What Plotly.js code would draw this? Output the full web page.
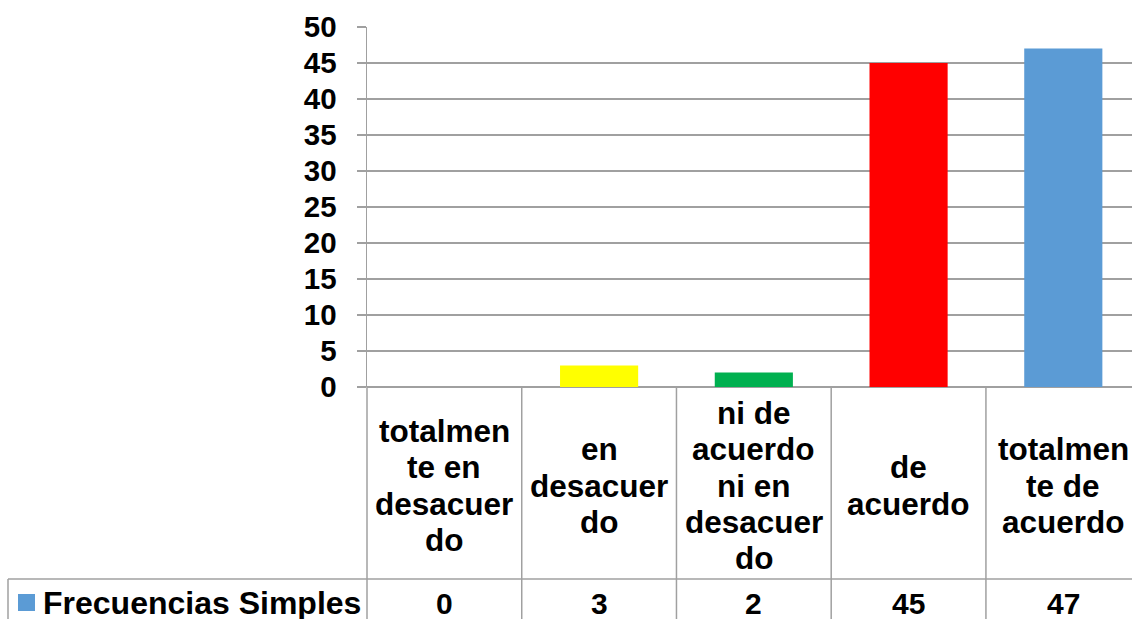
<!DOCTYPE html>
<html>
<head>
<meta charset="utf-8">
<script src="https://cdn.plot.ly/plotly-3.0.1.min.js"></script>
<style>
  html, body { margin: 0; padding: 0; background: #fff; overflow: hidden; }
  #chart { width: 1132px; height: 619px; }
</style>
</head>
<body>
<div id="chart"></div>
<script>
// ---- Data ----
const categories = [
  'totalmente en desacuerdo',
  'en desacuerdo',
  'ni de acuerdo ni en desacuerdo',
  'de acuerdo',
  'totalmente de acuerdo'
];
const labelLines = [
  ['totalmen', 'te en', 'desacuer', 'do'],
  ['en', 'desacuer', 'do'],
  ['ni de', 'acuerdo', 'ni en', 'desacuer', 'do'],
  ['de', 'acuerdo'],
  ['totalmen', 'te de', 'acuerdo']
];
const values = [0, 3, 2, 45, 47];
const seriesName = 'Frecuencias Simples';
const barColors = ['#5B9BD5', '#FFFF00', '#00B050', '#FF0000', '#5B9BD5'];
const legendColor = '#5B9BD5';
const yTickVals = [0, 5, 10, 15, 20, 25, 30, 35, 40, 45, 50];

// ---- Layout geometry ----
const FW = 1132, FH = 619;
const L = 367, T = 27, W = FW - L, H = 360;
const xRange = [-0.5, 4.444];
const lineColor = '#a0a0a0';
const fontFam = 'Liberation Sans, Arial, sans-serif';

const xp = p => (p - L) / W;            // pixel x -> paper x
const yp = p => (T + H - p) / H;        // pixel y -> paper y
const catPaper = v => (v - xRange[0]) / (xRange[1] - xRange[0]);

const tableBottom = FH + 5;
const rowLine = 579;
const labelCenter = 485.5;
const lineStep = 36.3;
const valueRow = 603;

const shapes = [];
const annotations = [];

// column separators of the data table
for (let i = 0; i <= categories.length; i++) {
  const xv = catPaper(i - 0.5);
  if (xv > 1.001) continue;
  shapes.push({
    type: 'line', xref: 'paper', yref: 'paper',
    x0: xv, x1: xv, y0: 0, y1: yp(tableBottom),
    line: { color: lineColor, width: 1.5 }
  });
}
// horizontal row line
shapes.push({
  type: 'line', xref: 'paper', yref: 'paper',
  x0: xp(8), x1: 1, y0: yp(rowLine), y1: yp(rowLine),
  line: { color: lineColor, width: 1.5 }
});
// left border of legend cell
shapes.push({
  type: 'line', xref: 'paper', yref: 'paper',
  x0: xp(8), x1: xp(8), y0: yp(rowLine), y1: yp(tableBottom),
  line: { color: lineColor, width: 1.5 }
});
// legend key
shapes.push({
  type: 'rect', xref: 'paper', yref: 'paper',
  x0: xp(18), x1: xp(35), y0: yp(611), y1: yp(594),
  fillcolor: legendColor, line: { width: 0 }
});

// category labels (wrapped, one annotation per line)
labelLines.forEach((lines, i) => {
  const n = lines.length;
  lines.forEach((txt, j) => {
    annotations.push({
      xref: 'paper', yref: 'paper',
      x: catPaper(i), y: yp(labelCenter + (j - (n - 1) / 2) * lineStep),
      xanchor: 'center', yanchor: 'middle',
      text: txt, showarrow: false,
      font: { family: fontFam, size: 31.5, color: '#000', weight: 'bold' }
    });
  });
});
// values row
values.forEach((v, i) => {
  annotations.push({
    xref: 'paper', yref: 'paper',
    x: catPaper(i), y: yp(valueRow),
    xanchor: 'center', yanchor: 'middle',
    text: String(v), showarrow: false,
    font: { family: fontFam, size: 30, color: '#000', weight: 'bold' }
  });
});
// series name
annotations.push({
  xref: 'paper', yref: 'paper',
  x: xp(41), y: yp(valueRow),
  xanchor: 'left', yanchor: 'middle',
  text: seriesName, showarrow: false,
  font: { family: fontFam, size: 32, color: '#000', weight: 'bold' }
});

const trace = {
  type: 'bar',
  x: categories,
  y: values,
  name: seriesName,
  marker: { color: barColors, line: { width: 0 } },
  hoverinfo: 'x+y'
};

const layout = {
  width: FW, height: FH,
  margin: { l: L, r: 0, t: T, b: FH - T - H, pad: 0 },
  paper_bgcolor: '#fff', plot_bgcolor: '#fff',
  showlegend: false,
  bargap: 0.495,
  font: { family: fontFam, color: '#000' },
  xaxis: {
    type: 'category',
    range: xRange,
    showticklabels: false,
    showgrid: false, zeroline: false, showline: false, ticks: ''
  },
  yaxis: {
    range: [0, 50],
    tickmode: 'array', tickvals: yTickVals,
    showgrid: true, gridcolor: lineColor, gridwidth: 1.5,
    zeroline: true, zerolinecolor: lineColor, zerolinewidth: 1.5,
    showline: true, linecolor: lineColor, linewidth: 1.5,
    ticks: 'outside', ticklen: 9, tickcolor: lineColor, tickwidth: 1.5,
    ticklabelstandoff: 14,
    tickfont: { family: fontFam, size: 29.5, color: '#000', weight: 'bold' }
  },
  shapes: shapes,
  annotations: annotations
};

Plotly.newPlot('chart', [trace], layout, { displayModeBar: false, staticPlot: true });
</script>
</body>
</html>
